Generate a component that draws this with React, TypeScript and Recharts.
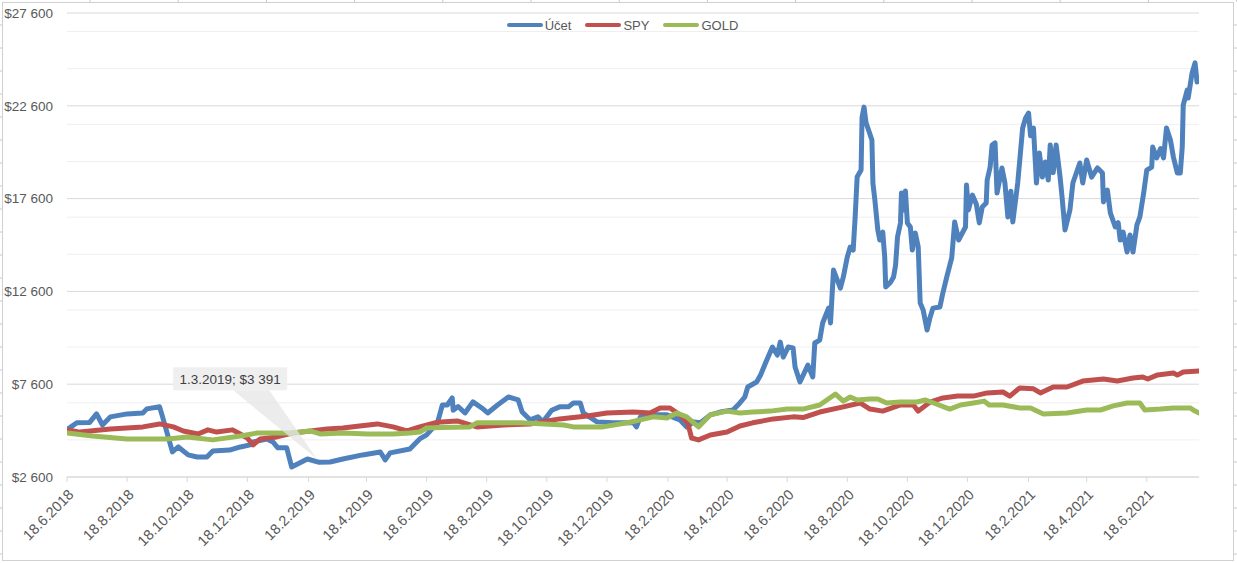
import React from "react";
import {
  LineChart,
  Line,
  XAxis,
  YAxis,
  CartesianGrid,
  ReferenceDot,
} from "recharts";

// day = days since 18.6.2018, value = USD
const uct: [number, number][] = [
  [0, 5150], [10, 5520], [23, 5540], [30, 6000], [36, 5400], [44, 5840],
  [61, 6000], [77, 6050], [81, 6270], [94, 6380], [97, 5840], [107, 3950],
  [113, 4220], [123, 3790], [132, 3680], [142, 3680], [148, 4000], [165, 4050],
  [176, 4220], [186, 4330], [189, 4490], [203, 4650], [209, 4490], [214, 4170],
  [223, 4170], [228, 3140], [244, 3570], [256, 3391], [267, 3410], [280, 3570],
  [300, 3790], [318, 3950], [323, 3520], [328, 3900], [348, 4110], [358, 4650],
  [365, 4870], [376, 5520], [381, 6480], [386, 6480], [391, 6860], [392, 6200],
  [397, 6400], [404, 6050], [412, 6650], [421, 6320], [427, 6050], [437, 6480],
  [448, 6910], [458, 6750], [462, 6100], [470, 5680], [478, 5840], [483, 5570],
  [492, 6200], [500, 6380], [509, 6380], [514, 6590], [521, 6590], [524, 6050],
  [538, 5570], [554, 5520], [575, 5520], [578, 5300], [582, 5840], [595, 5950],
  [609, 5950], [622, 5680], [629, 5300], [636, 5570], [643, 5520], [653, 5950],
  [663, 6100], [676, 6210], [683, 6590], [688, 6910], [691, 7450], [700, 7720],
  [704, 8100], [709, 8740], [716, 9600], [721, 9170], [724, 9870], [727, 9060],
  [732, 9600], [737, 9550], [739, 8530], [744, 7720], [752, 8630], [757, 7990],
  [759, 9820], [764, 9980], [767, 10900], [773, 11700], [775, 10900], [778, 13750],
  [785, 12780], [788, 13380], [792, 14450], [795, 14990], [798, 14830], [800, 16610],
  [802, 18760], [806, 19140], [807, 21990], [809, 22530], [811, 21700], [817, 20760],
  [818, 18440], [820, 17520], [823, 15910], [825, 15370], [828, 15800], [830, 14450],
  [831, 12840], [836, 13100], [839, 13380], [841, 14000], [843, 15530], [846, 16290],
  [847, 17900], [849, 16990], [851, 18010], [853, 16290], [856, 16070], [858, 14830],
  [861, 15750], [864, 15000], [866, 11980], [869, 11600], [873, 10520], [876, 11200],
  [879, 11700], [886, 11760], [889, 12510], [893, 13380], [898, 14400], [901, 16340],
  [905, 15370], [912, 16070], [913, 18330], [915, 16990], [919, 17790], [923, 17300],
  [926, 16290], [929, 17150], [933, 17360], [934, 18600], [937, 19300], [939, 20490],
  [942, 20600], [944, 17900], [949, 19250], [952, 18440], [955, 16610], [958, 18000],
  [960, 16340], [965, 18440], [970, 21400], [973, 21940], [976, 22210], [978, 20980],
  [981, 21400], [984, 18440], [987, 20060], [990, 18760], [993, 19570], [996, 18600],
  [998, 20490], [1001, 19000], [1004, 20490], [1008, 18760], [1010, 17690], [1013, 15910],
  [1018, 16990], [1021, 18440], [1028, 19520], [1031, 18440], [1035, 19680], [1040, 18760],
  [1046, 19250], [1051, 18980], [1052, 17420], [1056, 18060], [1059, 16830], [1064, 16070],
  [1067, 16300], [1069, 15370], [1072, 15800], [1076, 14720], [1079, 15640], [1082, 14720],
  [1086, 16180], [1089, 16610], [1093, 17960], [1096, 19140], [1101, 19300], [1102, 20380],
  [1106, 19790], [1110, 20300], [1113, 19790], [1116, 21400], [1120, 20760], [1123, 19840],
  [1127, 18980], [1130, 18980], [1132, 20380], [1133, 22640], [1137, 23450], [1138, 23020],
  [1142, 24370], [1145, 24910], [1147, 23880], [1149, 23990],
];

const spy: [number, number][] = [
  [0, 5150], [13, 5020], [44, 5190], [77, 5300], [94, 5460], [108, 5300],
  [118, 5080], [128, 4970], [133, 4920], [143, 5140], [152, 5020], [168, 5140],
  [173, 5000], [183, 4700], [189, 4330], [196, 4650], [213, 4760], [229, 4970],
  [247, 5080], [264, 5190], [280, 5240], [297, 5350], [315, 5460], [331, 5300],
  [345, 5080], [358, 5300], [376, 5550], [396, 5620], [416, 5300], [443, 5400],
  [470, 5460], [500, 5730], [528, 5890], [548, 6050], [575, 6100], [592, 6050],
  [602, 6320], [612, 6320], [622, 5950], [630, 5520], [634, 4700], [641, 4600],
  [653, 4860], [670, 5020], [683, 5350], [696, 5520], [717, 5730], [737, 5840],
  [747, 5800], [764, 6100], [788, 6380], [805, 6590], [815, 6260], [828, 6150],
  [846, 6480], [859, 6480], [864, 6150], [876, 6640], [889, 6860], [904, 6960],
  [920, 6960], [934, 7130], [950, 7180], [957, 6960], [967, 7400], [981, 7350],
  [988, 7130], [1001, 7450], [1015, 7450], [1031, 7770], [1052, 7880], [1066, 7770],
  [1082, 7930], [1092, 7990], [1097, 7880], [1107, 8100], [1123, 8200], [1127, 8090],
  [1133, 8260], [1149, 8310],
];

const gold: [number, number][] = [
  [0, 4970], [26, 4810], [61, 4650], [81, 4650], [102, 4650], [122, 4760],
  [148, 4600], [176, 4810], [193, 4970], [209, 4970], [229, 4970], [247, 5080],
  [257, 4920], [280, 4970], [305, 4920], [331, 4920], [348, 4970], [358, 5020],
  [365, 5240], [379, 5270], [409, 5300], [416, 5520], [460, 5520], [504, 5400],
  [514, 5300], [544, 5300], [569, 5520], [595, 5840], [609, 5780], [619, 6050],
  [629, 5840], [641, 5300], [653, 5950], [670, 6150], [683, 6050], [696, 6100],
  [714, 6150], [731, 6260], [747, 6260], [764, 6480], [780, 7070], [788, 6690],
  [795, 6910], [802, 6750], [815, 6800], [823, 6800], [832, 6590], [846, 6640],
  [863, 6640], [871, 6750], [879, 6600], [896, 6260], [907, 6480], [920, 6590],
  [931, 6690], [936, 6480], [950, 6480], [967, 6320], [978, 6320], [991, 6000],
  [1015, 6050], [1035, 6210], [1049, 6210], [1062, 6430], [1076, 6590], [1089, 6590],
  [1094, 6210], [1110, 6260], [1123, 6320], [1140, 6320], [1145, 6150], [1149, 6050],
];

const tickLabels = [
  "18.6.2018", "18.8.2018", "18.10.2018", "18.12.2018", "18.2.2019", "18.4.2019",
  "18.6.2019", "18.8.2019", "18.10.2019", "18.12.2019", "18.2.2020", "18.4.2020",
  "18.6.2020", "18.8.2020", "18.10.2020", "18.12.2020", "18.2.2021", "18.4.2021",
  "18.6.2021",
];

const yTicks = [2600, 7600, 12600, 17600, 22600, 27600];
const yMinor = [
  3600, 4600, 5600, 6600, 8600, 9600, 10600, 11600, 13600, 14600, 15600, 16600,
  18600, 19600, 20600, 21600, 23600, 24600, 25600, 26600,
];

const callout = { date: "1.3.2019", day: 256, value: 3391 };
const lastDay = 1149;

const series = [
  { name: "Účet", data: uct, color: "#4f81bd" },
  { name: "SPY", data: spy, color: "#c0504d" },
  { name: "GOLD", data: gold, color: "#9bbb59" },
];

const START = Date.UTC(2018, 5, 18);
const toDay = (s: string) => {
  const [d, m, y] = s.split(".").map(Number);
  return Math.round((Date.UTC(y, m - 1, d) - START) / 86400000);
};
const tickDays = tickLabels.map(toDay);
const labelByDay: Record<number, string> = {};
tickLabels.forEach((l, i) => (labelByDay[tickDays[i]] = l));

const fmtMoney = (v: number) =>
  "$" + String(v).replace(/\B(?=(\d{3})+(?!\d))/g, " ");

const FONT = "'Liberation Sans', Arial, sans-serif";
const TEXT = "#595959";

const XTick = (props: any) => {
  const { x, y, payload } = props;
  return (
    <text
      x={x + 4}
      y={y + 8}
      textAnchor="end"
      dy="0.35em"
      transform={`rotate(-45, ${x + 4}, ${y + 8})`}
      fontSize={14.5}
      fontFamily={FONT}
      fill={TEXT}
    >
      {labelByDay[payload.value]}
    </text>
  );
};

const Callout = (props: any) => {
  const { cx, cy } = props;
  if (cx == null || cy == null) return null;
  return (
    <g>
      <polygon
        points={`${cx - 86},${cy - 72} ${cx - 50},${cy - 72} ${cx - 2},${cy - 3}`}
        fill="#e6e6e6"
        fillOpacity={0.75}
      />
      <rect x={cx - 146} y={cy - 95} width={114} height={23} fill="#efefef" />
      <text
        x={cx - 89}
        y={cy - 83.5}
        textAnchor="middle"
        dy="0.35em"
        fontSize={13.5}
        fontFamily={FONT}
        fill="#404040"
      >
        {`${callout.date}; ${fmtMoney(callout.value)}`}
      </text>
    </g>
  );
};

// spreadsheet cell borders peeking around the chart frame
const colStubs = Array.from({ length: 14 }, (_, i) => 90 + i * 88.2);
const rowStubs = Array.from({ length: 24 }, (_, i) => 25 + i * 23);

export default function App() {
  return (
    <div
      style={{
        position: "absolute",
        left: 0,
        top: 0,
        width: 1237,
        height: 563,
        background: "#fff",
        overflow: "hidden",
      }}
    >
      <svg
        width={1237}
        height={563}
        style={{ position: "absolute", left: 0, top: 0 }}
      >
        {colStubs.map((x) => (
          <line key={"c" + x} x1={x} x2={x} y1={0} y2={2} stroke="#c8c8c8" />
        ))}
        {rowStubs.map((y) => (
          <g key={"r" + y}>
            <line x1={0} x2={2} y1={y} y2={y} stroke="#c8c8c8" />
            <line x1={1234} x2={1237} y1={y} y2={y} stroke="#c8c8c8" />
          </g>
        ))}
        <rect
          x={2.5}
          y={2.5}
          width={1231}
          height={558}
          fill="#fff"
          stroke="#d0d0d0"
        />
      </svg>

      <div style={{ position: "absolute", left: 0, top: 0 }}>
        <LineChart
          width={1237}
          height={563}
          margin={{ top: 13, right: 38, bottom: 0, left: 0 }}
        >
          <CartesianGrid
            vertical={false}
            horizontalValues={yMinor}
            stroke="#efefef"
            strokeWidth={1}
          />
          <CartesianGrid
            vertical={false}
            horizontalValues={yTicks}
            stroke="#d9d9d9"
            strokeWidth={1}
          />
          <XAxis
            type="number"
            dataKey="day"
            domain={[0, lastDay]}
            ticks={tickDays}
            interval={0}
            height={86}
            tick={<XTick />}
            tickSize={5}
            axisLine={{ stroke: "#d9d9d9" }}
            tickLine={{ stroke: "#d9d9d9" }}
            allowDataOverflow
          />
          <YAxis
            type="number"
            domain={[2600, 27600]}
            ticks={yTicks}
            width={67}
            axisLine={false}
            tickLine={false}
            tickMargin={8}
            tickFormatter={fmtMoney}
            tick={{ fontSize: 13.5, fontFamily: FONT, fill: TEXT }}
          />
          {series.map((s) => (
            <Line
              key={s.name}
              name={s.name}
              data={s.data.map(([day, value]) => ({ day, value }))}
              dataKey="value"
              type="linear"
              stroke={s.color}
              strokeWidth={5}
              strokeLinejoin="round"
              strokeLinecap="round"
              dot={false}
              activeDot={false}
              isAnimationActive={false}
            />
          ))}
          <ReferenceDot
            x={callout.day}
            y={callout.value}
            r={0}
            shape={<Callout />}
          />
        </LineChart>
      </div>

      <div
        style={{
          position: "absolute",
          left: 4,
          top: 16,
          width: 1237,
          display: "flex",
          justifyContent: "center",
          fontFamily: FONT,
          fontSize: 13,
          color: TEXT,
        }}
      >
        <div style={{ display: "flex", gap: 14 }}>
          {series.map((s) => (
            <div
              key={s.name}
              style={{ display: "flex", alignItems: "center", height: 18 }}
            >
              <span
                style={{
                  display: "inline-block",
                  width: 36,
                  height: 4,
                  borderRadius: 2,
                  background: s.color,
                  marginRight: 2,
                }}
              />
              <span>{s.name}</span>
            </div>
          ))}
        </div>
      </div>
    </div>
  );
}
